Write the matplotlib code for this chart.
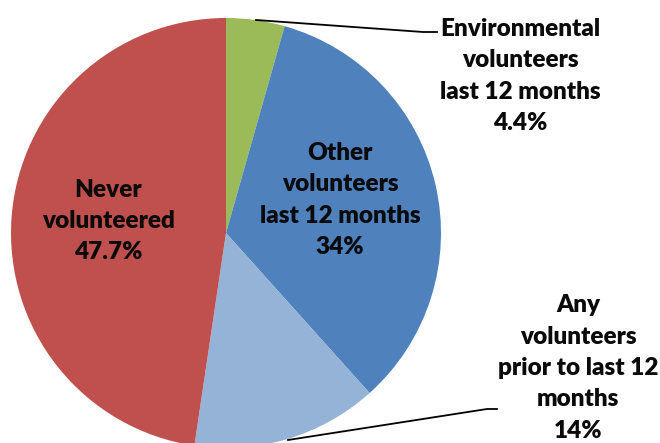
"""Volunteering pie chart recreated with matplotlib."""

import matplotlib
import matplotlib.pyplot as plt

matplotlib.use("Agg")

# ---------------------------------------------------------------------------
# Data
# ---------------------------------------------------------------------------

categories = [
    "Environmental\nvolunteers\nlast 12 months",
    "Other\nvolunteers\nlast 12 months",
    "Any\nvolunteers\nprior to last 12\nmonths",
    "Never\nvolunteered",
]
shares = [4.4, 34.0, 14.0, 47.7]
share_labels = ["4.4%", "34%", "14%", "47.7%"]

COLOURS = ["#9BBB59", "#4F81BD", "#95B3D7", "#C0504D"]

# ---------------------------------------------------------------------------
# Figure (axes in pixel units, y pointing up)
# ---------------------------------------------------------------------------

W, H = 660, 443
fig = plt.figure(figsize=(W / 100, H / 100), dpi=100)
ax = fig.add_axes([0, 0, 1, 1])

cx, cy, r = 226, H - 233, 215
ax.pie(
    shares,
    colors=COLOURS,
    startangle=90,
    counterclock=False,
    center=(cx, cy),
    radius=r,
    frame=True,
    wedgeprops={"linewidth": 0},
)
ax.set_xlim(0, W)
ax.set_ylim(0, H)
ax.set_aspect("equal")
ax.axis("off")

font = {"family": ["Lato", "DejaVu Sans"], "weight": "heavy", "size": 17.5, "color": "#0a0a0a"}
label_pos = [(520, H - 76), (340, H - 200), (578, H - 368), (108, H - 221)]
for text, pct, (x, y) in zip(categories, share_labels, label_pos):
    ax.text(x, y, f"{text}\n{pct}", ha="center", va="center",
            multialignment="center", linespacing=1.52, **font)

# leader lines
ax.plot([256, 423, 437], [H - 20, H - 32, H - 32], color="black", lw=1.3)
ax.plot([288, 487, 497], [H - 440, H - 409, H - 409], color="black", lw=1.3)

fig.savefig("out.png", dpi=100)
plt.close(fig)
